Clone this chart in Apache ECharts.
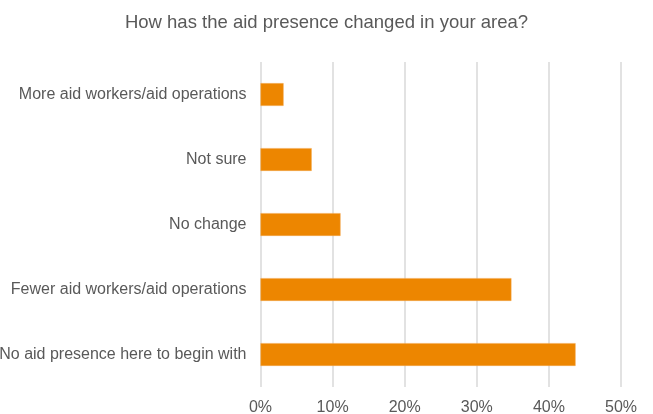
<!DOCTYPE html>
<html>
<head>
<meta charset="utf-8">
<script src="https://cdn.jsdelivr.net/npm/echarts@6/dist/echarts.min.js"></script>
<style>
html,body{margin:0;padding:0;background:#fff;}
#chart{width:653px;height:414px;}
</style>
</head>
<body>
<div id="chart"></div>
<script>
var titleText = 'How has the aid presence changed in your area?';
var categories = [
  'No aid presence here to begin with',
  'Fewer aid workers/aid operations',
  'No change',
  'Not sure',
  'More aid workers/aid operations'
];
var values = [43.7, 34.8, 11.1, 7.1, 3.2];
var tickMax = 50;
var tickStep = 10;

var chart = echarts.init(document.getElementById('chart'), null, {renderer: 'canvas'});
chart.setOption({
  animation: false,
  title: {
    text: titleText,
    left: 'center',
    top: 8,
    textStyle: {fontFamily: 'Liberation Sans', fontSize: 18.5, fontWeight: 'normal', color: '#595959'}
  },
  grid: {left: 260.5, right: 32, top: 62, bottom: 27, containLabel: false, outerBoundsMode: 'none'},
  xAxis: {
    type: 'value',
    min: 0,
    max: tickMax,
    interval: tickStep,
    axisLine: {show: false},
    axisTick: {show: false},
    splitLine: {show: true, lineStyle: {color: '#d9d9d9', width: 1.5}},
    axisLabel: {
      formatter: '{value}%',
      margin: 13,
      fontFamily: 'Liberation Sans',
      fontSize: 16,
      color: '#595959'
    }
  },
  yAxis: {
    type: 'category',
    data: categories,
    axisLine: {show: false},
    axisTick: {show: false},
    axisLabel: {
      margin: 14,
      fontFamily: 'Liberation Sans',
      fontSize: 16,
      color: '#595959'
    }
  },
  series: [{
    type: 'bar',
    data: values,
    barWidth: '35%',
    itemStyle: {color: '#ed8600', borderColor: '#f2a64a', borderWidth: 0.5}
  }]
});
</script>
</body>
</html>
